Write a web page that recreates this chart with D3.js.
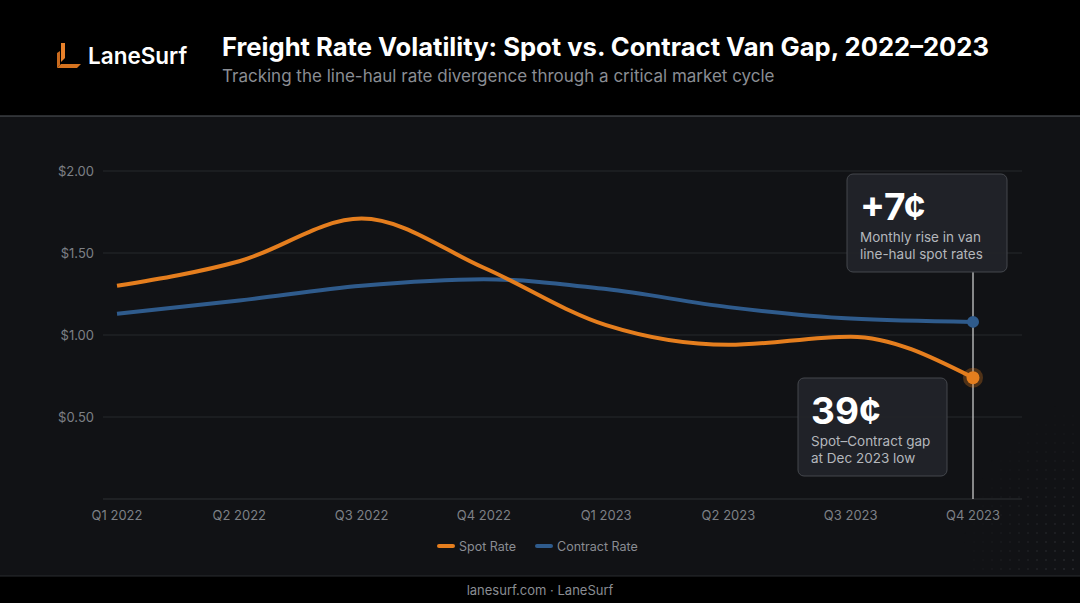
<!DOCTYPE html>
<html><head><meta charset="utf-8">
<script src="https://cdn.jsdelivr.net/npm/d3@7"></script>
<style>body{margin:0;background:#000;font-family:Inter,"Noto Sans",sans-serif}</style>
</head><body>
<script>
var quarters = ["Q1 2022","Q2 2022","Q3 2022","Q4 2022","Q1 2023","Q2 2023","Q3 2023","Q4 2023"];
var spot = [1.30, 1.45, 1.71, 1.41, 1.06, 0.94, 0.99, 0.74];
var contract = [1.13, 1.21, 1.30, 1.34, 1.28, 1.17, 1.10, 1.08];
var yTicks = [0.5, 1.0, 1.5, 2.0];

var W = 1080, H = 603;
var svg = d3.select("body").append("svg").attr("width", W).attr("height", H);
var defs = svg.append("defs");
var pat = defs.append("pattern").attr("id","dots").attr("width",9).attr("height",9).attr("patternUnits","userSpaceOnUse");
pat.append("circle").attr("cx",2).attr("cy",2).attr("r",0.8).attr("fill","#3a3d42");
var fade = defs.append("radialGradient").attr("id","fade").attr("cx","100%").attr("cy","100%").attr("r","100%");
fade.append("stop").attr("offset","0%").attr("stop-color","#fff").attr("stop-opacity",1);
fade.append("stop").attr("offset","100%").attr("stop-color","#fff").attr("stop-opacity",0);
defs.append("mask").attr("id","m").append("rect").attr("x",960).attr("y",400).attr("width",120).attr("height",176).attr("fill","url(#fade)");

svg.append("rect").attr("width",W).attr("height",H).attr("fill","#000");
svg.append("rect").attr("y",116).attr("width",W).attr("height",460).attr("fill","#111215");
svg.append("rect").attr("x",960).attr("y",400).attr("width",120).attr("height",176).attr("fill","url(#dots)").attr("mask","url(#m)");
svg.append("line").attr("x1",0).attr("x2",W).attr("y1",116).attr("y2",116).attr("stroke","#55585e");
svg.append("line").attr("x1",0).attr("x2",W).attr("y1",576).attr("y2",576).attr("stroke","#2a2c30");

// logo
var lg = svg.append("g").attr("transform","translate(57,43)").attr("fill","#e8812a");
lg.append("path").attr("d","M4,0 L8,0 L8,15 L4,19 Z");
lg.append("path").attr("d","M0,10 L3,8 L3,22 L0,25 Z").attr("fill","#c86a1e");
lg.append("path").attr("d","M4,21 L24,21 L20,25 L0,25 Z").attr("fill","#d6731f");
svg.append("text").attr("x",88).attr("y",64).attr("fill","#fff").attr("font-size",22.5).attr("font-weight",600).text("LaneSurf");

svg.append("text").attr("x",222).attr("y",56).attr("fill","#fff").attr("font-size",25.6).attr("font-weight",700).text("Freight Rate Volatility: Spot vs. Contract Van Gap, 2022–2023");
svg.append("text").attr("x",222).attr("y",82).attr("fill","#8a8d93").attr("font-size",17).text("Tracking the line-haul rate divergence through a critical market cycle");

var x = d3.scalePoint().domain(quarters).range([117, 973]);
var y = d3.scaleLinear().domain([0, 2]).range([499, 171]);

var g = svg.append("g");
g.selectAll(".grid").data(yTicks).join("line").attr("x1",103).attr("x2",1022)
  .attr("y1",d=>y(d)).attr("y2",d=>y(d)).attr("stroke","#26282c");
g.append("line").attr("x1",103).attr("x2",1022).attr("y1",499).attr("y2",499).attr("stroke","#2e3034");
g.selectAll(".yl").data(yTicks).join("text").attr("x",94).attr("y",d=>y(d)+5).attr("text-anchor","end")
  .attr("fill","#7d8086").attr("font-size",13).text(d=>"$"+d.toFixed(2));
g.selectAll(".xl").data(quarters).join("text").attr("x",d=>x(d)).attr("y",520).attr("text-anchor","middle")
  .attr("fill","#7d8086").attr("font-size",13).text(d=>d);

var line = d3.line().x((d,i)=>x(quarters[i])).y(d=>y(d)).curve(d3.curveMonotoneX);
svg.append("line").attr("x1",973).attr("x2",973).attr("y1",272).attr("y2",499).attr("stroke","#d8d8d8").attr("stroke-width",1.2);
svg.append("path").attr("d",line(contract)).attr("fill","none").attr("stroke","#2f5b8c").attr("stroke-width",4);
svg.append("path").attr("d",line(spot)).attr("fill","none").attr("stroke","#e57e1e").attr("stroke-width",4);
svg.append("circle").attr("cx",973).attr("cy",y(contract[7])).attr("r",6).attr("fill","#2f5b8c");
svg.append("circle").attr("cx",973).attr("cy",y(spot[7])).attr("r",10).attr("fill","#e57e1e").attr("opacity",0.3);
svg.append("circle").attr("cx",973).attr("cy",y(spot[7])).attr("r",6.5).attr("fill","#e57e1e");

function callout(bx, by, bw, bh, big, lines){
  var c = svg.append("g").attr("transform","translate("+bx+","+by+")");
  c.append("rect").attr("width",bw).attr("height",bh).attr("rx",6).attr("fill","#222429").attr("fill-opacity",0.95).attr("stroke","#44474d");
  c.append("text").attr("x",13).attr("y",46).attr("fill","#fff").attr("font-size",37).attr("font-weight",700).text(big);
  lines.forEach((t,i)=>c.append("text").attr("x",13).attr("y",68+i*17).attr("fill","#b4b7bc").attr("font-size",13.5).text(t));
}
callout(847,174,160,98,"+7¢",["Monthly rise in van","line-haul spot rates"]);
callout(798,378,149,98,"39¢",["Spot–Contract gap","at Dec 2023 low"]);

var leg = svg.append("g").attr("transform","translate(439,546)");
[["Spot Rate","#e57e1e",0],["Contract Rate","#2f5b8c",98]].forEach(function(l){
  leg.append("line").attr("x1",l[2]).attr("x2",l[2]+14).attr("stroke",l[1]).attr("stroke-width",4).attr("stroke-linecap","round");
  leg.append("text").attr("x",l[2]+20).attr("y",4.5).attr("fill","#8a8d93").attr("font-size",12.5).text(l[0]);
});
svg.append("text").attr("x",540).attr("y",595).attr("text-anchor","middle").attr("fill","#8a8d93").attr("font-size",13).text("lanesurf.com · LaneSurf");
</script>
</body></html>
